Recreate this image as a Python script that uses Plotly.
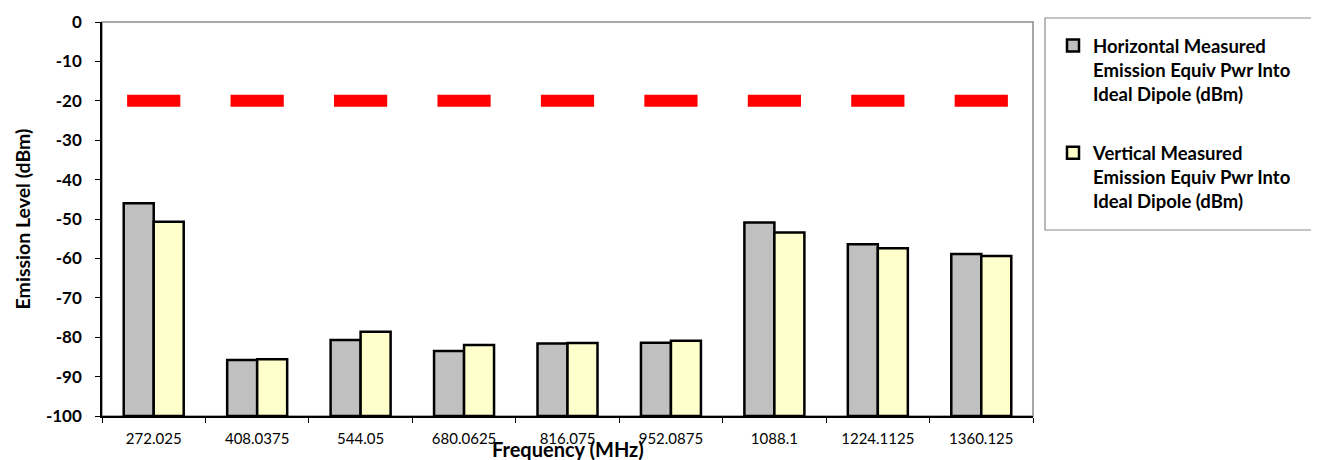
import plotly.graph_objects as go

categories = ["272.025", "408.0375", "544.05", "680.0625", "816.075",
              "952.0875", "1088.1", "1224.1125", "1360.125"]
horizontal = [-46.0, -85.8, -80.7, -83.5, -81.6, -81.4, -50.9, -56.4, -58.9]
vertical = [-50.7, -85.6, -78.6, -82.0, -81.5, -80.9, -53.4, -57.4, -59.4]
limit = [-20, -20, -20, -20, -20, -20, -20, -20, -20]
y_ticks = [0, -10, -20, -30, -40, -50, -60, -70, -80, -90, -100]
y_ticktext = [str(v) for v in y_ticks]

name_h = "Horizontal Measured<br>Emission Equiv Pwr Into<br>Ideal Dipole (dBm)"
name_v = "Vertical Measured<br>Emission Equiv Pwr Into<br>Ideal Dipole (dBm)"

BASE = -100
FONT = "Lato"

fig = go.Figure()
fig.add_trace(go.Bar(
    x=categories, y=[v - BASE for v in horizontal], base=BASE,
    customdata=horizontal, hovertemplate="%{x}: %{customdata} dBm<extra></extra>",
    name=name_h, legendgroup="h",
    marker=dict(color="#C0C0C0", line=dict(color="black", width=2.5)),
))
fig.add_trace(go.Bar(
    x=categories, y=[v - BASE for v in vertical], base=BASE,
    customdata=vertical, hovertemplate="%{x}: %{customdata} dBm<extra></extra>",
    name=name_v, legendgroup="v",
    marker=dict(color="#FFFFCC", line=dict(color="black", width=2.5)),
))
fig.add_trace(go.Scatter(
    x=categories, y=limit, mode="markers", showlegend=False, name="Limit",
    marker=dict(symbol="line-ew", size=38, color="#FF0000",
                line=dict(color="#FF0000", width=12)),
))

# page offset of the figure (default body margin)
OFF = 8
W, H = 1319 - OFF, 460 - OFF
L, T = 102 - OFF, 22 - OFF
pw, ph = 931, 394
R = W - L - pw
B = H - T - ph


def px_x(page_x):
    return (page_x - OFF - L) / pw


def px_y(page_y):
    return (T + ph - (page_y - OFF)) / ph


def cx(page_x):
    return (page_x - OFF) / W


def cy(page_y):
    return 1 - (page_y - OFF) / H


fig.update_layout(
    width=W, height=H,
    margin=dict(l=L, r=R, t=T, b=B, autoexpand=False),
    paper_bgcolor="white", plot_bgcolor="white",
    barmode="group", bargap=0.42, bargroupgap=0,
    font=dict(family=FONT, color="black"),
    legend=dict(
        xref="container", yref="container",
        x=cx(1053), y=cy(27), xanchor="left", yanchor="top",
        font=dict(family=FONT, size=18.5, color="black", weight="bold"),
        bgcolor="rgba(0,0,0,0)", borderwidth=0,
        traceorder="grouped", tracegroupgap=32,
        valign="top",
    ),
    xaxis=dict(
        type="category", range=[-0.5, len(categories) - 0.5],
        tickson="boundaries", ticks="outside", ticklen=5,
        tickcolor="black", showline=True, linecolor="black", linewidth=1.5,
        tickfont=dict(family=FONT, size=15, color="black"),
        ticklabelstandoff=8,
        showgrid=False,
    ),
    yaxis=dict(
        range=[-100, 0], tickvals=y_ticks, ticktext=y_ticktext,
        ticks="outside", ticklen=5,
        tickcolor="black", showline=True, linecolor="black", linewidth=1.5,
        tickfont=dict(family=FONT, size=17, color="black", weight="bold"),
        ticklabelstandoff=10,
        title=dict(text="Emission Level (dBm)", standoff=10,
                   font=dict(family=FONT, size=19.5, color="black", weight="bold")),
        showgrid=False, zeroline=False,
    ),
    annotations=[
        dict(text="Frequency (MHz)", xref="paper", yref="paper",
             x=0.5, y=px_y(449), xanchor="center", yanchor="middle",
             showarrow=False,
             font=dict(family=FONT, size=20, color="black", weight="bold")),
    ],
    shapes=[
        dict(type="rect", xref="paper", yref="paper", x0=0, x1=1, y0=0, y1=1,
             line=dict(color="#8C8C8C", width=1.5), layer="below"),
        dict(type="rect", xref="paper", yref="paper",
             x0=px_x(1045), x1=px_x(1315), y0=px_y(230), y1=px_y(18),
             line=dict(color="#8C8C8C", width=1.2), layer="below"),
    ],
)

fig.write_html("out.html")
